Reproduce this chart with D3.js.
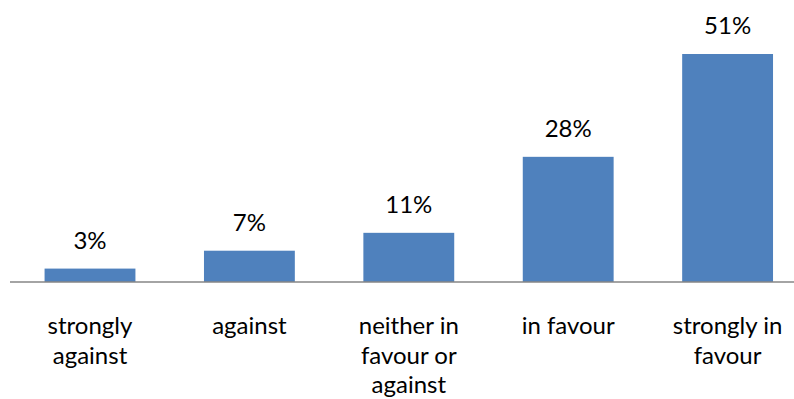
<!DOCTYPE html>
<html><head><meta charset="utf-8">
<script src="https://cdn.jsdelivr.net/npm/d3@7"></script>
<style>body{margin:0;background:#fff}svg{display:block}text{font-family:Lato,"Open Sans",sans-serif;fill:#000}</style>
</head><body><svg id="c" width="794" height="399"></svg>
<script>
const categories = ["strongly against","against","neither in favour or against","in favour","strongly in favour"];
const values = [3,7,11,28,51];
const valueLabels = ["3%","7%","11%","28%","51%"];

const svg = d3.select("#c");
const x0 = 10.3, bw = 159.4;
const x = d3.scaleBand().domain(categories).range([x0, x0 + bw*categories.length]).paddingInner(0.43).paddingOuter(0.215);
const y = d3.scaleLinear().domain([0,51]).range([282,54]);

svg.append("g").selectAll("rect").data(values).join("rect")
  .attr("x",(d,i)=>x(categories[i])).attr("width",x.bandwidth())
  .attr("y",d=>y(d)).attr("height",d=>y(0)-y(d)).attr("fill","#4F81BD");

svg.append("line").attr("x1",10).attr("x2",794).attr("y1",282).attr("y2",282)
  .attr("stroke","#868686").attr("stroke-width",1.5);

const fs = 24, lh = 29.5, maxW = 140;
svg.append("g").selectAll("text").data(values).join("text")
  .attr("x",(d,i)=>x(categories[i])+x.bandwidth()/2).attr("y",d=>y(d)-20)
  .attr("text-anchor","middle").attr("font-size",fs).text((d,i)=>valueLabels[i]);

categories.forEach((c,i)=>{
  const cx = x(c)+x.bandwidth()/2;
  const t = svg.append("text").attr("text-anchor","middle").attr("font-size",fs);
  const words = c.split(" ");
  let lines=[], cur="";
  const probe = svg.append("text").attr("font-size",fs);
  words.forEach(w=>{
    const test = cur ? cur+" "+w : w;
    probe.text(test);
    if (probe.node().getComputedTextLength() > maxW && cur){ lines.push(cur); cur=w; } else cur=test;
  });
  lines.push(cur); probe.remove();
  lines.forEach((l,j)=>t.append("tspan").attr("x",cx).attr("y",334+j*lh).text(l));
});
</script></body></html>
